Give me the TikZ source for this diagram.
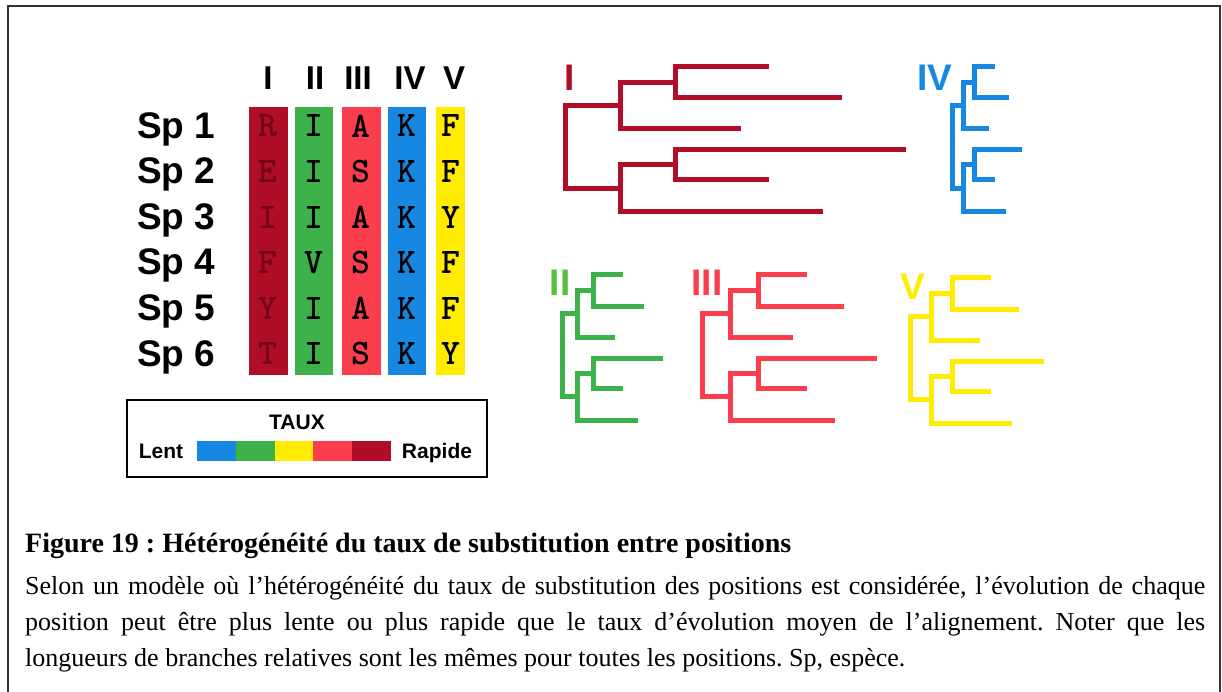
\documentclass[tikz,border=0pt]{standalone}
\usepackage{fontspec}
\setsansfont{Liberation Sans}
\newfontfamily\capfont{Liberation Serif}
\usetikzlibrary{positioning}
\definecolor{bleu}{RGB}{22,136,226}
\definecolor{vert}{RGB}{62,178,74}
\definecolor{jaune}{RGB}{255,236,0}
\definecolor{rouge}{RGB}{250,62,78}
\definecolor{bordeaux}{RGB}{176,14,38}
\definecolor{bordeauxfonce}{RGB}{118,4,24}

% arbre : #1 couleur, #2 racine x, #3 haut y, #4 echelle des branches
\newcommand{\arbre}[4]{%
  \begin{scope}[shift={(#2,#3)}, x=#4pt, draw=#1, branche]
    \draw (201,0) -| (110,31) -- (274,31);
    \draw (173,62) -| (55,15.5) -- (110,15.5);
    \draw (201,113) -| (110,83) -- (338,83);
    \draw (255,145) -| (55,98) -- (110,98);
    \draw (55,38.75) -| (0,121.5) -- (55,121.5);
  \end{scope}}

\begin{document}
\begin{tikzpicture}[x=1pt, y=-1pt,
    entete/.style={font=\sffamily\bfseries\fontsize{33}{36}\selectfont, inner sep=0},
    espece/.style={font=\sffamily\bfseries\fontsize{37}{40}\selectfont, anchor=base west, inner sep=0},
    lettre/.style={font=\ttfamily\bfseries\fontsize{36}{38}\selectfont, inner sep=0},
    branche/.style={line width=5pt, line cap=rect, line join=miter},
    nomarbre/.style={font=\sffamily\bfseries\fontsize{37}{40}\selectfont, inner sep=0},
    cle/.style={font=\sffamily\bfseries\fontsize{21}{24}\selectfont, inner sep=0}]
  \useasboundingbox (0,0) rectangle (1222,692);
  \fill[white] (0,0) rectangle (1222,692);
  \draw[line width=1.5pt, black!80] (8,692) -- (8,6) -- (1220,6) -- (1220,692);

  % positions
  \node[entete] (pI) at (268,78) {I};
  \node[entete] (pII) at (315,78) {II};
  \node[entete] (pIII) at (358,78) {III};
  \node[entete] (pIV) at (410,78) {IV};
  \node[entete] (pV) at (454,78) {V};

  % especes
  \foreach \i in {1,...,6}
    \node[espece] (sp\i) at (137,{138.5+45.5*(\i-1)}) {Sp \i};

  % colonnes de l'alignement
  \fill[bordeaux] (249,107) rectangle (288,375);
  \fill[vert] (295,107) rectangle (333,375);
  \fill[rouge] (342,107) rectangle (381,375);
  \fill[bleu] (388,107) rectangle (426,375);
  \fill[jaune] (436,107) rectangle (465,375);
  \foreach \a [count=\i] in {R,E,I,F,Y,T}
    \node[lettre, text=bordeauxfonce] (cI\i) at (268,{126+45.6*(\i-1)}) {\a};
  \foreach \a [count=\i] in {I,I,I,V,I,I}
    \node[lettre] (cII\i) at (314,{126+45.6*(\i-1)}) {\a};
  \foreach \a [count=\i] in {A,S,A,S,A,S}
    \node[lettre] (cIII\i) at (361,{126+45.6*(\i-1)}) {\a};
  \foreach \a [count=\i] in {K,K,K,K,K,K}
    \node[lettre] (cIV\i) at (407,{126+45.6*(\i-1)}) {\a};
  \foreach \a [count=\i] in {F,F,Y,F,F,Y}
    \node[lettre] (cV\i) at (451,{126+45.6*(\i-1)}) {\a};

  % echelle des taux
  \node[draw, line width=1.3pt, minimum width=360pt, minimum height=77pt, inner sep=0] (cadre) at (307,438.5) {};
  \node[cle] (taux) at (297,422) {TAUX};
  \foreach \c [count=\i] in {bleu,vert,jaune,rouge,bordeaux}
    \fill[\c] ({197+38.8*(\i-1)},441) rectangle ++(38.8,20);
  \node[cle, anchor=base] (lent) at (161,458) {Lent};
  \node[cle, anchor=base] (rapide) at (437,458) {Rapide};

  % arbres
  \arbre{bordeaux}{565}{67}{1}
  \arbre{bleu}{952}{67}{0.2}
  \arbre{vert}{562}{275}{0.29}
  \arbre{rouge}{702}{275}{0.51}
  \arbre{jaune}{910}{278}{0.39}
  \node[nomarbre, text=bordeaux] (aI) at (570,78) {I};
  \node[nomarbre, text=bleu] (aIV) at (935,78) {IV};
  \node[nomarbre, text=vert!80!lime] (aII) at (560,283) {II};
  \node[nomarbre, text=rouge] (aIII) at (707,283) {III};
  \node[nomarbre, text=jaune] (aV) at (913,287) {V};

  % legende
  \node[anchor=north west, inner sep=0, text width=1180pt, align=justify,
        font=\capfont\fontsize{26}{36}\selectfont\frenchspacing] (texte) at (25,533)
    {{\bfseries\fontsize{28}{38}\selectfont Figure 19 : Hétérogénéité du taux de substitution entre positions}\\[6pt]
     Selon un modèle où l’hétérogénéité du taux de substitution des positions est considérée, l’évolution de chaque\linebreak
     position peut être plus lente ou plus rapide que le taux d’évolution moyen de l’alignement. Noter que les\linebreak
     longueurs de branches relatives sont les mêmes pour toutes les positions. Sp, espèce.};
\end{tikzpicture}
\end{document}
